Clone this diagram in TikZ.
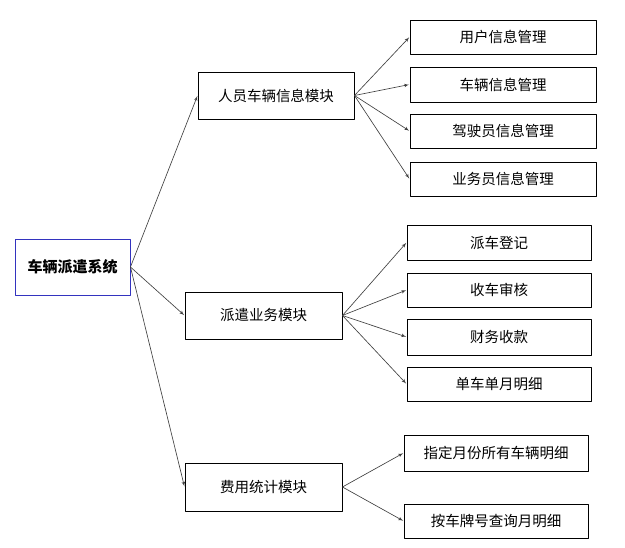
\documentclass[tikz,border=0pt]{standalone}
\usepackage{fontspec}
\newfontfamily\cjk{Noto Sans CJK SC}
\usepackage{tikz}
\usetikzlibrary{shapes,arrows,positioning,calc}
\definecolor{rootcol}{rgb}{0.2,0.2,0.75}
\definecolor{linecol}{rgb}{0.25,0.25,0.25}

\begin{document}
\begin{tikzpicture}[>=latex',line join=bevel,x=1pt,y=-1pt,
  box/.style={draw=black,line width=0.9pt,fill=white,inner sep=0pt,
    font=\cjk\fontsize{14.5}{17}\selectfont},
  rootbox/.style={box,draw=rootcol,font=\cjk\bfseries\fontsize{15}{18}\selectfont},
  link/.style={->,draw=linecol,line width=0.65pt,shorten >=0.5pt},
]
\useasboundingbox (0,0) rectangle (625,548);
% root
\node[rootbox,minimum width=115pt,minimum height=56pt] (sys) at (72.5,267) {车辆派遣系统};
% modules
\node[box,minimum width=156pt,minimum height=47pt] (renyuan) at (276,95.5) {人员车辆信息模块};
\node[box,minimum width=157pt,minimum height=47pt] (paiqian) at (263.5,315.5) {派遣业务模块};
\node[box,minimum width=157pt,minimum height=48pt] (feiyong) at (263.5,487) {费用统计模块};
% leaves of renyuan
\node[box,minimum width=186pt,minimum height=34pt] (yonghu) at (503,37) {用户信息管理};
\node[box,minimum width=186pt,minimum height=35pt] (cheliang) at (503,84.5) {车辆信息管理};
\node[box,minimum width=186pt,minimum height=34pt] (jiashi) at (503,131) {驾驶员信息管理};
\node[box,minimum width=186pt,minimum height=34pt] (yewu) at (503,179) {业务员信息管理};
% leaves of paiqian
\node[box,minimum width=184pt,minimum height=35pt] (dengji) at (499,242.5) {派车登记};
\node[box,minimum width=184pt,minimum height=34pt] (shenhe) at (499,290) {收车审核};
\node[box,minimum width=184pt,minimum height=36pt] (shoukuan) at (499,337) {财务收款};
\node[box,minimum width=184pt,minimum height=34pt] (danche) at (499,384) {单车单月明细};
% leaves of feiyong
\node[box,minimum width=184pt,minimum height=36pt] (zhiding) at (496,453) {指定月份所有车辆明细};
\node[box,minimum width=184pt,minimum height=34pt] (chaxun) at (496,521) {按车牌号查询月明细};
% connectors
\draw[link] (sys.east) -- (renyuan.west);
\draw[link] (sys.east) -- (paiqian.west);
\draw[link] (sys.east) -- (feiyong.west);
\draw[link] (renyuan.east) -- (yonghu.west);
\draw[link] (renyuan.east) -- (cheliang.west);
\draw[link] (renyuan.east) -- (jiashi.west);
\draw[link] (renyuan.east) -- (yewu.west);
\draw[link] (paiqian.east) -- (dengji.west);
\draw[link] (paiqian.east) -- (shenhe.west);
\draw[link] (paiqian.east) -- (shoukuan.west);
\draw[link] (paiqian.east) -- (danche.west);
\draw[link] (feiyong.east) -- (zhiding.west);
\draw[link] (feiyong.east) -- (chaxun.west);
\end{tikzpicture}
\end{document}
